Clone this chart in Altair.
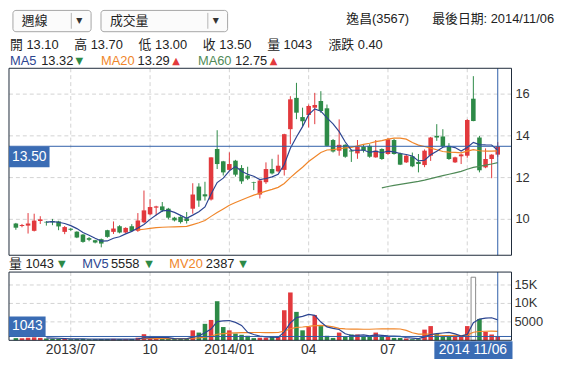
import altair as alt
import pandas as pd

# ---------------- data (weekly candles) ----------------
opens = [9.80, 9.68, 9.70, 9.45, 9.92, 9.88, 9.92, 9.90, 9.40, 9.55,
         9.41, 9.27, 9.10, 9.00, 9.05, 9.48, 9.40, 9.67, 9.37, 9.67,
         9.45, 9.86, 10.24, 10.56, 10.62, 10.51, 10.08, 10.12, 10.05, 10.51,
         11.57, 11.20, 10.95, 13.37, 12.78, 12.37, 12.81, 12.46, 12.10, 11.78,
         11.19, 11.78, 12.41, 12.30, 12.37, 14.32, 15.82, 14.90, 15.00, 15.35,
         15.67, 15.32, 13.80, 13.29, 13.57, 13.30, 13.16, 13.48, 13.52, 12.97,
         13.37, 13.13, 13.80, 13.16, 12.73, 13.02, 12.75, 12.60, 13.05, 14.00,
         13.97, 13.52, 12.73, 13.02, 13.05, 15.78, 13.92, 12.49, 12.89, 13.10]
highs = [9.83, 9.78, 10.30, 10.27, 10.15, 9.92, 10.02, 9.93, 9.68, 9.58,
         9.43, 9.30, 9.15, 9.02, 9.08, 9.50, 9.90, 9.72, 9.62, 9.77,
         10.30, 11.38, 10.97, 10.65, 10.83, 10.55, 10.12, 10.15, 10.35, 11.73,
         11.73, 11.80, 12.97, 14.27, 12.80, 13.21, 12.85, 12.60, 12.52, 11.80,
         11.90, 12.73, 12.90, 13.10, 14.10, 15.90, 16.54, 15.35, 15.50, 16.06,
         16.14, 15.50, 13.85, 14.79, 13.60, 13.35, 13.80, 13.60, 13.60, 13.80,
         13.40, 13.90, 13.85, 13.20, 13.10, 13.20, 13.13, 13.35, 13.95, 14.56,
         14.32, 13.65, 13.00, 13.15, 14.80, 16.86, 14.00, 13.40, 13.12, 13.70]
lows = [9.50, 9.62, 9.32, 9.42, 9.78, 9.70, 9.72, 9.48, 9.29, 9.45,
        9.10, 8.88, 8.95, 8.85, 8.66, 9.12, 9.30, 9.33, 9.33, 9.40,
        9.40, 9.82, 10.20, 10.19, 10.35, 10.00, 9.90, 9.80, 9.80, 10.27,
        10.60, 10.90, 10.90, 12.41, 12.10, 12.30, 12.05, 11.70, 11.88, 11.40,
        11.00, 11.70, 12.15, 12.25, 12.10, 13.60, 14.80, 14.45, 14.40, 14.56,
        15.10, 13.50, 13.20, 13.05, 12.95, 12.75, 12.90, 13.20, 12.95, 12.95,
        12.85, 13.10, 13.10, 12.60, 12.70, 12.50, 12.25, 12.50, 12.80, 13.76,
        13.45, 12.85, 12.70, 12.65, 12.95, 14.70, 12.25, 12.45, 11.97, 13.00]
closes = [9.60, 9.73, 9.80, 9.94, 10.00, 9.85, 9.86, 9.66, 9.63, 9.50,
          9.13, 8.92, 9.02, 8.89, 8.84, 9.16, 9.56, 9.37, 9.59, 9.44,
          9.95, 10.43, 10.59, 10.62, 10.43, 10.08, 9.95, 9.87, 9.92, 11.19,
          10.90, 11.10, 12.97, 12.65, 12.25, 12.65, 12.14, 11.82, 11.95, 11.75,
          11.86, 12.41, 12.20, 12.57, 14.08, 15.75, 15.11, 14.70, 15.43, 15.48,
          15.19, 13.52, 13.25, 13.57, 13.00, 13.25, 13.48, 13.30, 13.00, 13.29,
          12.89, 13.84, 13.13, 12.62, 13.05, 12.54, 12.65, 13.29, 13.92, 13.92,
          13.49, 12.89, 12.97, 13.11, 14.76, 14.71, 12.35, 12.89, 13.10, 13.50]
volumes = [600, 550, 700, 800, 650, 500, 400, 450, 400, 300,
           350, 400, 300, 300, 350, 350, 400, 300, 300, 350,
           700, 1660, 600, 500, 450, 400, 350, 400, 500, 2700,
           2100, 4470, 5520, 10600, 3600, 2700, 1840, 1500, 1230, 600,
           700, 700, 900, 1000, 8150, 12970, 7710, 2710, 3600, 6840,
           3860, 1230, 650, 2100, 1000, 1580, 1580, 1000, 1000, 2100,
           1000, 1000, 650, 650, 500, 300, 300, 2900, 3860, 1800,
           1100, 1000, 1000, 1000, 3860, 17100, 5790, 2280, 1580, 1043]

price_ticks = [10, 12, 14, 16]
vol_ticks = [5000, 10000, 15000]
vol_tick_labels = ["5000", "10K", "15K"]
month_idx = [9, 22, 35, 48, 61, 74]
month_labels = ["2013/07", "10", "2014/01", "04", "07", "10"]
highlight_idx = 75

stock_name = "逸昌(3567)"
last_date = "2014/11/06"
last_date_box = "2014 11/06"
last_open, last_high, last_low, last_close = 13.10, 13.70, 13.00, 13.50
last_vol = 1043
last_change = 0.40
ma_values = [13.32, 13.29, 12.75]
mv_values = [5558, 2387]

# ---------------- style ----------------
RED = "#e2393d"
GREEN = "#2d8a47"
BLUE_LINE = "#2f5ea8"
BOX = "#3a6cb4"
FRAME = "#1e2a3a"
GRID = "#d2d2d2"
TXT = "#333333"
MA5C = "#2c4591"
MA20C = "#f0862a"
MA60C = "#4f8a57"
FONT = "Liberation Sans, Noto Sans CJK TC, sans-serif"
SYM = "DejaVu Sans, sans-serif"

W, H = 508, 275
MAIN_H = 189
VOL_TOP = 206
X0, Y0 = 9, 67  # page position of plot origin


def px(x):
    return x - X0


def py(y):
    return y - Y0


df = pd.DataFrame({"i": list(range(len(closes))), "open": opens, "high": highs,
                   "low": lows, "close": closes, "vol": volumes})

xs = alt.Scale(domain=[-0.318, 80.445], nice=False, zero=False)
ps = alt.Scale(domain=[8.28, 17.237], range=[MAIN_H, 0], nice=False, zero=False)
vs = alt.Scale(domain=[0, 18500], range=[H, VOL_TOP], nice=False, zero=False)
X = alt.X("i:Q", scale=xs, axis=None)

base = alt.Chart(df)
up = "datum.close >= datum.open"
ccol = alt.condition(up, alt.value(RED), alt.value(GREEN))
one = pd.DataFrame({"k": [0]})


def txt(s, x, y, color=TXT, size=13, align="left", font=FONT):
    return alt.Chart(one).mark_text(text=s, align=align, baseline="middle", fontSize=size,
                                    font=font, color=color).encode(x=alt.value(x), y=alt.value(y))


def box(x1, x2, y1, y2, fill, stroke=None, radius=0):
    kw = dict(fill=fill, cornerRadius=radius)
    if stroke:
        kw.update(stroke=stroke, strokeWidth=1)
    return alt.Chart(one).mark_rect(**kw).encode(
        x=alt.value(x1), x2=alt.value(x2), y=alt.value(y1), y2=alt.value(y2))


layers = []

# grid
mt = pd.DataFrame({"i": month_idx, "lab": month_labels})
pt = pd.DataFrame({"p": price_ticks})
vt = pd.DataFrame({"v": vol_ticks, "lab": vol_tick_labels})
layers.append(alt.Chart(mt).mark_rule(color=GRID, strokeDash=[4, 3]).encode(
    x=X, y=alt.value(0), y2=alt.value(MAIN_H)))
layers.append(alt.Chart(mt).mark_rule(color=GRID, strokeDash=[4, 3]).encode(
    x=X, y=alt.value(VOL_TOP), y2=alt.value(H)))
layers.append(alt.Chart(pt).mark_rule(color=GRID, strokeDash=[4, 3]).encode(
    y=alt.Y("p:Q", scale=ps, axis=None)))
layers.append(alt.Chart(vt).mark_rule(color=GRID, strokeDash=[4, 3]).encode(
    y=alt.Y("v:Q", scale=vs, axis=None)))

# candles
layers.append(base.mark_rule(strokeWidth=1).encode(
    x=X, y=alt.Y("low:Q", scale=ps, axis=None), y2="high:Q", color=ccol))
layers.append(base.mark_bar(size=4.6).encode(
    x=X, y=alt.Y("open:Q", scale=ps, axis=None), y2="close:Q", color=ccol))


def avg_line(n, field, scale, color, name):
    return base.transform_window(
        **{name: f"mean({field})", "cnt": "count(i)"},
        frame=[-(n - 1), 0], sort=[alt.SortField("i")]
    ).transform_filter(f"datum.cnt == {n} && datum.i >= {n}").mark_line(
        color=color, strokeWidth=1.2).encode(
        x=X, y=alt.Y(f"{name}:Q", scale=scale, axis=None))


layers.append(avg_line(60, "close", ps, MA60C, "ma60"))
layers.append(avg_line(20, "close", ps, MA20C, "ma20"))
layers.append(avg_line(5, "close", ps, MA5C, "ma5"))

# volume
layers.append(base.transform_calculate(
    vcol=f"datum.i == {highlight_idx} ? 'hl' : ({up} ? 'up' : 'down')"
).mark_bar(size=4.6, stroke="#8c8c8c", strokeWidth=1).encode(
    x=X, y=alt.Y("vol:Q", scale=vs, axis=None),
    fill=alt.Fill("vcol:N", scale=alt.Scale(domain=["up", "down", "hl"], range=[RED, GREEN, "white"]), legend=None),
    strokeOpacity=alt.condition(f"datum.i == {highlight_idx}", alt.value(1), alt.value(0))))
layers.append(avg_line(20, "vol", vs, MA20C, "mv20"))
layers.append(avg_line(5, "vol", vs, MA5C, "mv5"))

# current value lines and cursor
layers.append(alt.Chart(pd.DataFrame({"p": [last_close]})).mark_rule(color=BLUE_LINE).encode(
    y=alt.Y("p:Q", scale=ps, axis=None)))
layers.append(alt.Chart(pd.DataFrame({"v": [last_vol]})).mark_rule(color=BLUE_LINE).encode(
    y=alt.Y("v:Q", scale=vs, axis=None)))
cur = pd.DataFrame({"i": [len(closes) - 1]})
layers.append(alt.Chart(cur).mark_rule(color=BLUE_LINE).encode(x=X, y=alt.value(0), y2=alt.value(MAIN_H)))
layers.append(alt.Chart(cur).mark_rule(color=BLUE_LINE).encode(x=X, y=alt.value(VOL_TOP), y2=alt.value(H)))

# frames
layers.append(box(0, W, 0, MAIN_H, "none", FRAME))
layers.append(box(0, W, VOL_TOP, H, "none", FRAME))

# value boxes
layers.append(box(0, 41, 79, 100, BOX))
layers.append(txt(f"{last_close:.2f}", 3, 89.5, "white", 14))
layers.append(box(0, 37, 251, 271, BOX))
layers.append(txt(f"{last_vol}", 3, 261, "white", 14))
layers.append(box(430, 509, 276, 294, BOX))

# axis labels
layers.append(alt.Chart(pt).mark_text(align="left", baseline="middle", fontSize=13, font=FONT, color=TXT).encode(
    y=alt.Y("p:Q", scale=ps, axis=None), x=alt.value(px(521)), text="p:Q"))
layers.append(alt.Chart(vt).mark_text(align="left", baseline="middle", fontSize=13, font=FONT, color=TXT).encode(
    y=alt.Y("v:Q", scale=vs, axis=None), x=alt.value(px(520)), text="lab:N"))
layers.append(alt.Chart(mt[mt["i"] < month_idx[-1]]).mark_text(
    align="center", baseline="middle", fontSize=14, font=FONT, color=TXT).encode(
    x=X, y=alt.value(py(352)), text="lab:N"))
layers.append(txt(last_date_box, 469, py(352), "white", 14, "center"))

# dropdowns
for (bx1, bx2, div, label) in [(13, 92, 72, "週線"), (102, 230, 210, "成交量")]:
    layers.append(box(px(bx1), px(bx2), py(8.5), py(30), "#fbfbfb", "#a5a5a5", 3))
    layers.append(alt.Chart(one).mark_rule(color="#b5b5b5").encode(
        x=alt.value(px(div)), y=alt.value(py(11)), y2=alt.value(py(27))))
    layers.append(txt("▼", px(div + 8), py(19), "#333333", 8, "center", SYM))
    layers.append(txt(label, px(bx1 + 9), py(19), "#222222", 13))

layers.append(txt(stock_name, px(350), py(17.5), "#222222", 13, "left"))
layers.append(txt(f"最後日期: {last_date}", px(560), py(17.5), "#222222", 13, "right"))

# info line
items = [("開", last_open), ("高", last_high), ("低", last_low), ("收", last_close)]
for (lab, val), x in zip(items, [10, 75, 140, 205]):
    layers.append(txt(f"{lab} {val:.2f}", px(x), py(43), "#222222", 13))
layers.append(txt(f"量 {last_vol}", px(270), py(43), "#222222", 13))
layers.append(txt(f"漲跌 {last_change:.2f}", px(332), py(43), "#222222", 13))

# MA line
layers.append(txt("MA5", px(10), py(60), MA5C, 13))
layers.append(txt(f"{ma_values[0]:.2f}", px(41.5), py(60), "#222222", 13))
layers.append(txt("▼", px(80), py(60), GREEN, 10, "center", SYM))
layers.append(txt("MA20", px(102), py(60), MA20C, 13))
layers.append(txt(f"{ma_values[1]:.2f}", px(139), py(60), "#222222", 13))
layers.append(txt("▲", px(178), py(60), RED, 10, "center", SYM))
layers.append(txt("MA60", px(200), py(60), MA60C, 13))
layers.append(txt(f"{ma_values[2]:.2f}", px(237.5), py(60), "#222222", 13))
layers.append(txt("▲", px(276.5), py(60), RED, 10, "center", SYM))

# volume header
layers.append(txt(f"量 {last_vol}", px(9), py(265), "#222222", 13))
layers.append(txt("▼", px(62.5), py(265), GREEN, 10, "center", SYM))
layers.append(txt("MV5", px(83), py(265), MA5C, 13))
layers.append(txt(f"{mv_values[0]}", px(112), py(265), "#222222", 13))
layers.append(txt("▼", px(150.5), py(265), GREEN, 10, "center", SYM))
layers.append(txt("MV20", px(171), py(265), MA20C, 13))
layers.append(txt(f"{mv_values[1]}", px(208), py(265), "#222222", 13))
layers.append(txt("▼", px(245.5), py(265), GREEN, 10, "center", SYM))

chart = alt.layer(*layers).resolve_scale(y="independent").properties(
    width=W, height=H,
    autosize=alt.AutoSizeParams(type="none"),
    padding={"left": 1, "top": 59, "right": 47, "bottom": 23},
).configure_view(stroke=None)

chart.save("out.html", embed_options={"renderer": "svg", "actions": False})
